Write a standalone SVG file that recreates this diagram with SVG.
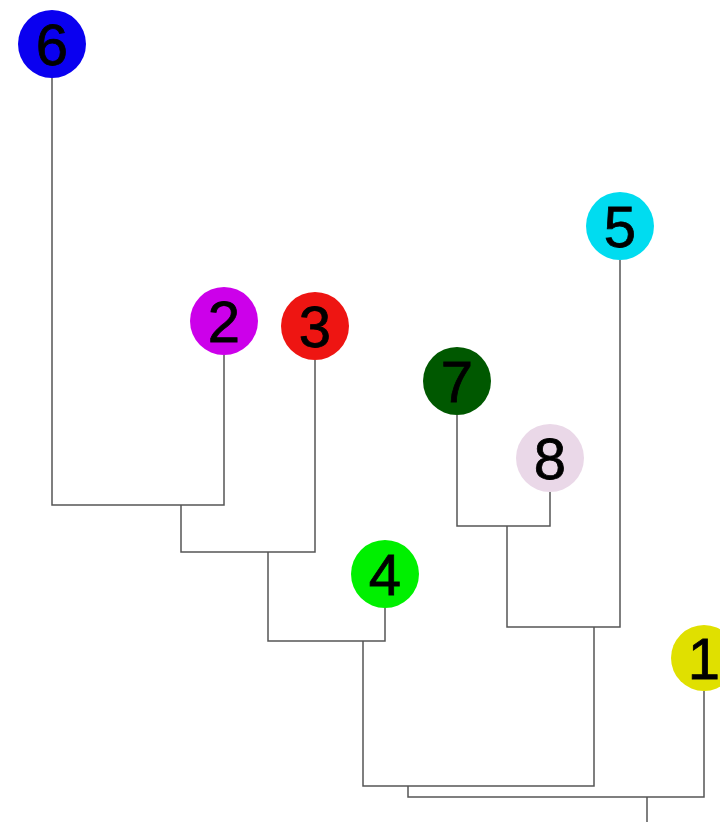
<svg xmlns="http://www.w3.org/2000/svg" width="720" height="822" viewBox="0 0 720 822">
<style>
.e{fill:none;stroke:#555;stroke-width:1.5;stroke-linejoin:miter}
.n text{font-family:"Liberation Sans",Arial,sans-serif;font-size:58px;fill:#000;stroke:#000;stroke-width:0.8;text-anchor:middle}
</style>
<rect width="720" height="822" fill="#fff"/>
<g id="connectors">
<path class="e" d="M52,77V505H224V355"/>
<path class="e" d="M181,505V552H315V360"/>
<path class="e" d="M268,552V641H385V608"/>
<path class="e" d="M457,415V526H550V492"/>
<path class="e" d="M507,526V627H620V260"/>
<path class="e" d="M363,641V786H594V627"/>
<path class="e" d="M408,786V797H704V691"/>
<path class="e" d="M647,797V822"/>
</g>
<g id="n6" class="n"><circle cx="52" cy="44" r="34" fill="#0a00f0"/><text x="52" y="65">6</text></g>
<g id="n2" class="n"><circle cx="224" cy="321" r="34" fill="#cc00ea"/><text x="224" y="342">2</text></g>
<g id="n3" class="n"><circle cx="315" cy="326" r="34" fill="#ee1512"/><text x="315" y="347">3</text></g>
<g id="n5" class="n"><circle cx="620" cy="226" r="34" fill="#00dcf0"/><text x="620" y="247">5</text></g>
<g id="n7" class="n"><circle cx="457" cy="381" r="34" fill="#005800"/><text x="457" y="402">7</text></g>
<g id="n8" class="n"><circle cx="550" cy="458" r="34" fill="#ead8e8"/><text x="550" y="479">8</text></g>
<g id="n4" class="n"><circle cx="385" cy="574" r="34" fill="#00f000"/><text x="385" y="595">4</text></g>
<g id="n1" class="n"><circle cx="704" cy="658" r="33" fill="#e0e000"/><text x="704" y="679">1</text></g>
</svg>
